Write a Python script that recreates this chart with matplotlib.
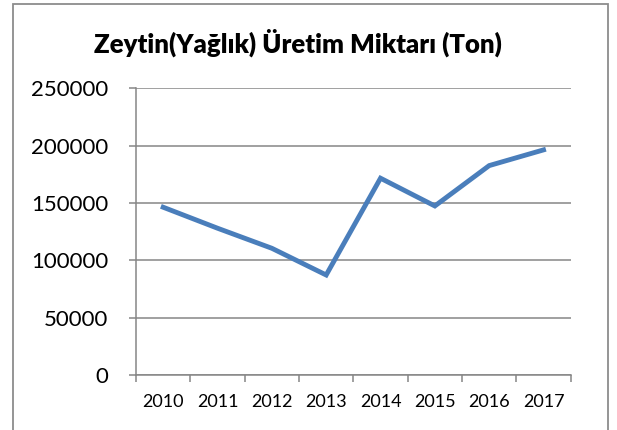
import matplotlib.pyplot as plt
from matplotlib.patches import Rectangle

years = ["2010", "2011", "2012", "2013", "2014", "2015", "2016", "2017"]
production = [146300, 128000, 110500, 87200, 171600, 147400, 182600, 196300]
y_ticks = [0, 50000, 100000, 150000, 200000, 250000]

plt.rcParams['font.family'] = ['Lato', 'DejaVu Sans']

fig = plt.figure(figsize=(6.17, 4.30), dpi=100)
ax = fig.add_axes([136/617, 1 - 375/430, (570.7 - 136)/617, (375 - 88.3)/430])

grid_col = "#868686"
x = [i + 0.5 for i in range(len(years))]
ax.plot(x, production, color="#4a7ebb", linewidth=3.5, solid_joinstyle="miter", zorder=3)

ax.set_xlim(0, len(years))
ax.set_ylim(0, 250000)
ax.set_yticks(y_ticks)
ax.set_yticklabels([str(v) for v in y_ticks], fontsize=16)
ax.yaxis.grid(True, color=grid_col, linewidth=1.1)
ax.set_axisbelow(True)

ax.set_xticks(range(len(years) + 1))
ax.set_xticklabels([])
ax.set_xticks(x, minor=True)
ax.set_xticklabels(years, minor=True, fontsize=13)
ax.tick_params(axis="x", which="minor", length=0, pad=14)
ax.tick_params(axis="x", which="major", length=5, color=grid_col, width=1.1)
ax.tick_params(axis="y", length=5, color=grid_col, width=1.1, pad=15)

for s in ["top", "right"]:
    ax.spines[s].set_visible(False)
for s in ["left", "bottom"]:
    ax.spines[s].set_color(grid_col)
    ax.spines[s].set_linewidth(1.1)

fig.text(297.5/617, 1 - 43/430, "Zeytin(Yağlık) Üretim Miktarı (Ton)",
         ha="center", va="center", fontsize=18.5, fontweight="heavy")

fig.patches.append(Rectangle((12.7/617, -0.05), (608 - 12.7)/617, 1 - 3.5/430 + 0.05,
                             transform=fig.transFigure, fill=False,
                             edgecolor="#8c8c8c", linewidth=1.3))

fig.savefig("out.png", dpi=100)
